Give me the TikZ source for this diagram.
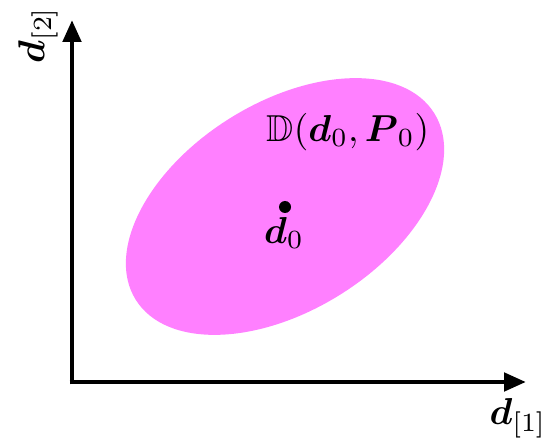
\documentclass[tikz,border=0pt]{standalone}
\usepackage{amsmath,amssymb}
\usetikzlibrary{arrows.meta}
\definecolor{regionpink}{HTML}{FF80FF}
\begin{document}
\begin{tikzpicture}[x=1pt,y=1pt,
  axis/.style={line width=4.8pt,-{Triangle[length=22pt,width=18pt]}},
  lbl/.style={inner sep=0pt,scale=3.75}]
\useasboundingbox (0,0) rectangle (543,442);
\fill[regionpink,rotate around={32:(285,235.5)}] (285,235.5) ellipse (176 and 104);
\coordinate (O) at (72,60);
\coordinate (ytip) at (72,422);
\coordinate (xtip) at (526,60);
\draw[axis] ([yshift=-2.4pt]O) -- (ytip);
\draw[axis] ([xshift=-2.4pt]O) -- (xtip);
\node[lbl,rotate=90] (ylab) at (38,407) {$\boldsymbol{d}_{[2]}$};
\node[lbl] (xlab) at (518,24) {$\boldsymbol{d}_{[1]}$};
\fill (285,235) circle (6);
\node[lbl] (d0) at (284,209) {$\boldsymbol{d}_0$};
\node[lbl] (D) at (348,310) {$\mathbb{D}(\boldsymbol{d}_0,\boldsymbol{P}_0)$};
\end{tikzpicture}
\end{document}
